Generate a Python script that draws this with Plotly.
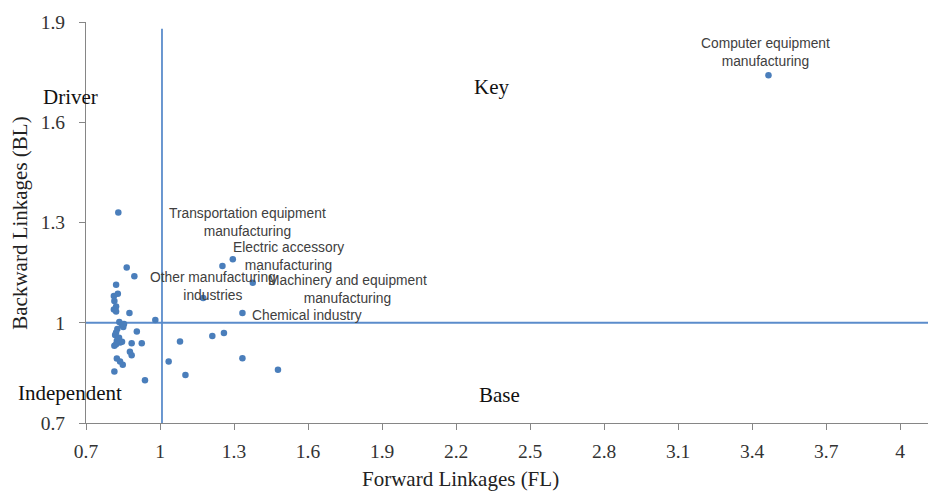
import plotly.graph_objects as go

# ---- data -------------------------------------------------------------
fl_values = [0.831, 0.865, 0.896, 0.822, 0.829, 0.813, 0.815, 0.822, 0.813, 0.822,
             0.876, 0.981, 0.835, 0.845, 0.851, 0.827, 0.822, 0.906, 0.818, 0.825,
             0.838, 0.885, 0.926, 1.081, 0.815, 0.878, 0.885, 1.035, 0.825, 0.838,
             0.849, 0.815, 0.939, 1.103, 1.212, 1.259, 1.334, 1.478,
             0.854, 0.846, 0.822, 0.834]
bl_values = [1.330, 1.165, 1.139, 1.114, 1.087, 1.080, 1.065, 1.049, 1.040, 1.034,
             1.029, 1.008, 1.002, 0.993, 0.987, 0.981, 0.971, 0.974, 0.963, 0.946,
             0.941, 0.939, 0.939, 0.944, 0.931, 0.913, 0.903, 0.884, 0.893, 0.884,
             0.874, 0.854, 0.828, 0.844, 0.960, 0.969, 0.894, 0.859,
             0.996, 0.943, 0.936, 0.955]

labeled_names = ["Transportation equipment<br>manufacturing",
                 "Electric accessory<br>manufacturing",
                 "Other manufacturing<br>industries",
                 "Machinery and equipment<br>manufacturing",
                 "Chemical industry",
                 "Computer equipment<br>manufacturing"]
labeled_fl = [1.253, 1.295, 1.175, 1.376, 1.334, 3.466]
labeled_bl = [1.170, 1.190, 1.074, 1.120, 1.029, 1.741]

# quadrant divider lines
vline_x = [1.008, 1.008]
vline_y = [0.7, 1.88]
hline_x = [0.7, 4.145]
hline_y = [1.0, 1.0]

x_ticks = [0.7, 1.0, 1.3, 1.6, 1.9, 2.2, 2.5, 2.8, 3.1, 3.4, 3.7, 4.0]
x_tick_text = ["0.7", "1", "1.3", "1.6", "1.9", "2.2", "2.5", "2.8", "3.1", "3.4", "3.7", "4"]
y_ticks = [0.7, 1.0, 1.3, 1.6, 1.9]
y_tick_text = ["0.7", "1", "1.3", "1.6", "1.9"]

quadrant_names = ["Driver", "Key", "Independent", "Base"]

# ---- styling ----------------------------------------------------------
SERIF = "Liberation Serif, Times New Roman, serif"
SANS = "Liberation Sans, Arial, sans-serif"
DOT = "#4a7ebb"
LINE = "#5b8ccb"
AXIS = "#868686"

fig = go.Figure()

fig.add_trace(go.Scatter(x=vline_x, y=vline_y, mode="lines",
                         line=dict(color=LINE, width=1.8), hoverinfo="skip",
                         showlegend=False))
fig.add_trace(go.Scatter(x=hline_x, y=hline_y, mode="lines",
                         line=dict(color=LINE, width=1.8), hoverinfo="skip",
                         showlegend=False))

fig.add_trace(go.Scatter(x=fl_values + labeled_fl, y=bl_values + labeled_bl,
                         mode="markers", marker=dict(color=DOT, size=6.5),
                         showlegend=False))

# label offsets (pixels) relative to their points
label_shifts = [(25, 43), (56, 3), (10, 12), (95, -7), (65, -2), (-3, 23)]
for name, xv, yv, (dx, dy) in zip(labeled_names, labeled_fl, labeled_bl, label_shifts):
    fig.add_annotation(x=xv, y=yv, xref="x", yref="y", text=name,
                       showarrow=False, xshift=dx, yshift=dy,
                       xanchor="center", yanchor="middle", align="center",
                       font=dict(family=SANS, size=13.8, color="#404040"))

# quadrant names (paper coordinates)
quad_pos = [(-0.0188, 0.813), (0.4765, 0.838), (-0.0188, 0.0748), (0.487, 0.0698)]
for name, (px, py) in zip(quadrant_names, quad_pos):
    fig.add_annotation(x=px, y=py, xref="paper", yref="paper", text=name,
                       showarrow=False, xanchor="center", yanchor="middle",
                       font=dict(family=SERIF, size=21, color="#111111"))

# axis titles
fig.add_annotation(x=0.44, y=-0.139, xref="paper", yref="paper",
                   text="Forward Linkages (FL)", showarrow=False,
                   xanchor="center", yanchor="middle",
                   font=dict(family=SERIF, size=21, color="#222222"))
fig.add_annotation(x=-0.0776, y=0.497, xref="paper", yref="paper",
                   text="Backward Linkages (BL)", showarrow=False, textangle=-90,
                   xanchor="center", yanchor="middle",
                   font=dict(family=SERIF, size=21, color="#222222"))

fig.update_xaxes(range=[0.7, 4.145], tickvals=x_ticks, ticktext=x_tick_text,
                 showgrid=False, zeroline=False, showline=True, linecolor=AXIS,
                 linewidth=1, ticks="outside", ticklen=6, tickcolor=AXIS,
                 ticklabelstandoff=5,
                 tickfont=dict(family=SERIF, size=19.5, color="#333333"))
fig.update_yaxes(range=[0.7, 1.9], tickvals=y_ticks, ticktext=y_tick_text,
                 showgrid=False, zeroline=False, showline=True, linecolor=AXIS,
                 linewidth=1, ticks="outside", ticklen=6, tickcolor=AXIS,
                 ticklabelstandoff=10,
                 tickfont=dict(family=SERIF, size=19.5, color="#333333"))

fig.update_layout(width=928, height=485,
                  margin=dict(l=78, r=0, t=14, b=70),
                  paper_bgcolor="white", plot_bgcolor="white")

fig.write_html("out.html")
